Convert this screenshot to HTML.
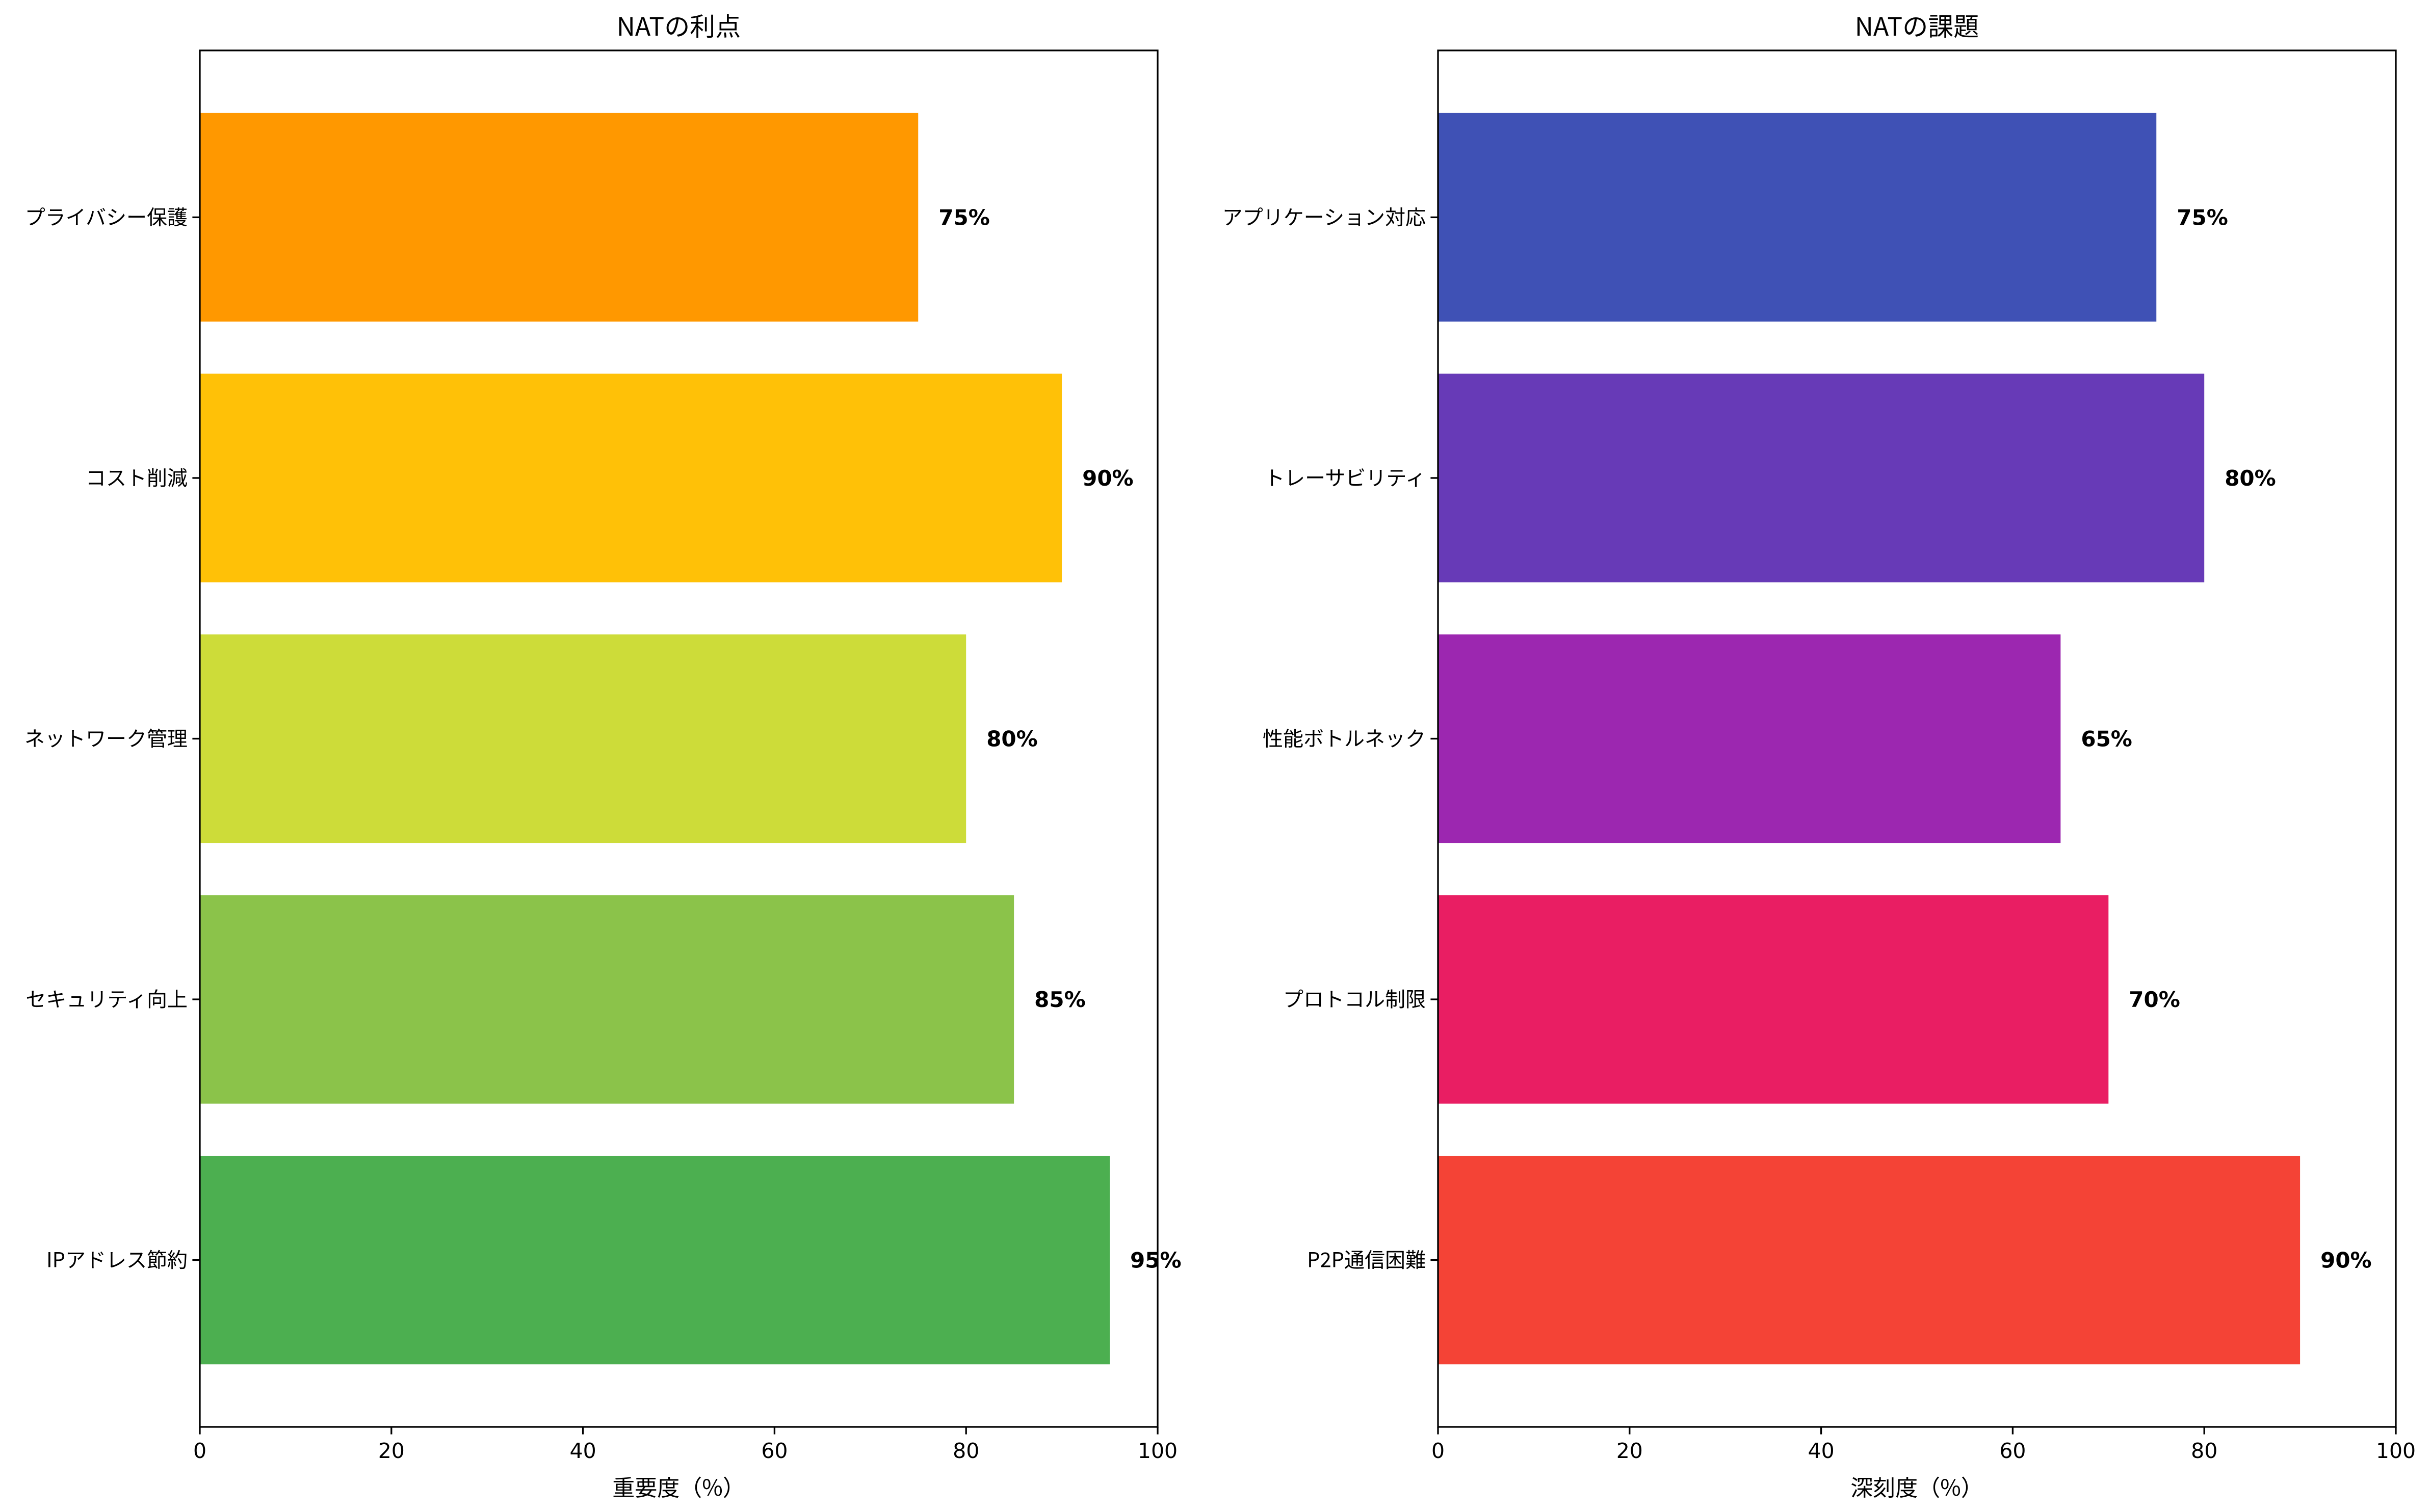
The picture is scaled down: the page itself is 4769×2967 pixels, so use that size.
<!DOCTYPE html>
<html><head><meta charset="utf-8">
<style>
html,body{margin:0;padding:0;background:#fff;}
svg{display:block;}
text{font-family:"DejaVu Sans","Liberation Sans","Noto Sans CJK JP",sans-serif;}
.cjk{font-family:"Noto Sans CJK JP","DejaVu Sans",sans-serif;}
</style></head>
<body>
<svg id="chart" width="4769" height="2967" viewBox="0 0 4769 2967" xmlns="http://www.w3.org/2000/svg"></svg>
<script>
const leftCategories = ["IPアドレス節約","セキュリティ向上","ネットワーク管理","コスト削減","プライバシー保護"];
const leftValues = [95,85,80,90,75];
const leftColors = ["#4CAF50","#8BC34A","#CDDC39","#FFC107","#FF9800"];
const rightCategories = ["P2P通信困難","プロトコル制限","性能ボトルネック","トレーサビリティ","アプリケーション対応"];
const rightValues = [90,70,65,80,75];
const rightColors = ["#F44336","#E91E63","#9C27B0","#673AB7","#3F51B5"];
const xTicks = [0,20,40,60,80,100];

const NS="http://www.w3.org/2000/svg";
const svg=document.getElementById('chart');
function mk(tag,attrs,parent){const e=document.createElementNS(NS,tag);for(const k in attrs)e.setAttribute(k,attrs[k]);(parent||svg).appendChild(e);return e;}

function panel(x0,x1,cats,vals,cols,title,xlabel,key){
  const y0=99,y1=2800;
  const unit=(y1-y0)/5.28;
  const xs=v=>x0+(x1-x0)*v/100;
  const ys=i=>y1-(0.64+i)*unit;
  const g=mk('g',{});
  
  
  cats.forEach((c,i)=>{
    const r=mk('rect',{x:xs(0),y:ys(i)-0.4*unit,width:xs(vals[i])-xs(0),height:0.8*unit,fill:cols[i]},g);
    
    
    const t=mk('text',{x:xs(vals[i])+40,y:ys(i)+15,'font-size':42,'font-weight':'bold'},g);
    t.textContent=vals[i]+'%';
    
    
    mk('line',{x1:x0-14.6,x2:x0,y1:ys(i),y2:ys(i),stroke:'#000','stroke-width':3.3},g);
    const l=mk('text',{x:x0-24,y:ys(i)+14,'font-size':40,'text-anchor':'end',class:'cjk'},g);
    l.textContent=c;
    
    
  });
  xTicks.forEach(v=>{
    mk('line',{x1:xs(v),x2:xs(v),y1:y1,y2:y1+14.6,stroke:'#000','stroke-width':3.3},g);
    const t=mk('text',{x:xs(v),y:2861,'font-size':41,'text-anchor':'middle'},g);
    t.textContent=v;
    
    
  });
  const fr=mk('rect',{x:x0,y:y0,width:x1-x0,height:y1-y0,fill:'none',stroke:'#000','stroke-width':3.3},g);
  
  
  const tt=mk('text',{x:(x0+x1)/2,y:70,'font-size':50,'text-anchor':'middle',class:'cjk'},g);
  tt.textContent=title;
  
  
  const xl=mk('text',{x:(x0+x1)/2,y:2935,'font-size':44,'text-anchor':'middle',class:'cjk'},g);
  xl.textContent=xlabel;
  
  
}
panel(392,2271,leftCategories,leftValues,leftColors,"NATの利点","重要度（%）","benefits");
panel(2821,4700,rightCategories,rightValues,rightColors,"NATの課題","深刻度（%）","challenges");
</script>
</body></html>
